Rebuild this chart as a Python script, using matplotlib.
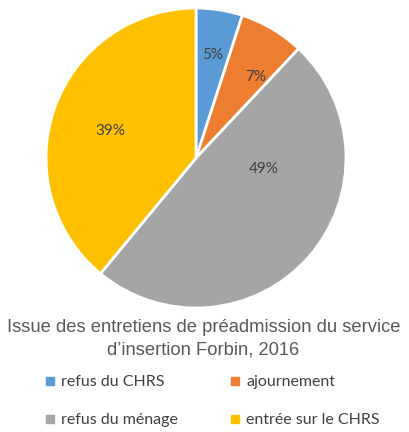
import matplotlib
matplotlib.use("Agg")
import matplotlib.pyplot as plt
from matplotlib.lines import Line2D

categories = ["refus du CHRS", "ajournement", "refus du ménage", "entrée sur le CHRS"]
values = [5, 7, 49, 39]
colors = ["#5B9BD5", "#ED7D31", "#A5A5A5", "#FFC000"]
# label positions inside the pie (unit radius)
label_pos = [(0.11, 0.69), (0.40, 0.54), (0.45, -0.07), (-0.57, 0.18)]

fig = plt.figure(figsize=(4.09, 4.32), dpi=100)
ax = fig.add_axes([0.1125, 0.287, 0.7335, 0.6944])

wedges, _ = ax.pie(values, colors=colors, startangle=90, counterclock=False,
                   radius=1.0, wedgeprops=dict(edgecolor="white", linewidth=2))
for v, (x, y) in zip(values, label_pos):
    ax.text(x, y, f"{v}%", ha="center", va="center", fontsize=11,
            color="#404040", family="Lato")
ax.set_xlim(-1, 1)
ax.set_ylim(-1, 1)
ax.set_aspect("equal")
ax.axis("off")

fig.text(0.4976, 0.216, "Issue des entretiens de préadmission du service\nd\u2019insertion Forbin, 2016",
         ha="center", va="center", fontsize=13.2, color="#595959",
         family="Liberation Sans", linespacing=1.45)

handles = [Line2D([], [], marker="s", linestyle="", markersize=5.5, color=c) for c in colors]
order = [0, 2, 1, 3]
fig.legend([handles[i] for i in order], [categories[i] for i in order],
           ncol=2, loc="center", bbox_to_anchor=(0.52, 0.071), frameon=False,
           prop=dict(family="Lato", size=11.5), labelcolor="#404040",
           handlelength=0.5, handletextpad=0.45, columnspacing=3.35,
           labelspacing=1.5)

fig.savefig("out.png", dpi=100)
